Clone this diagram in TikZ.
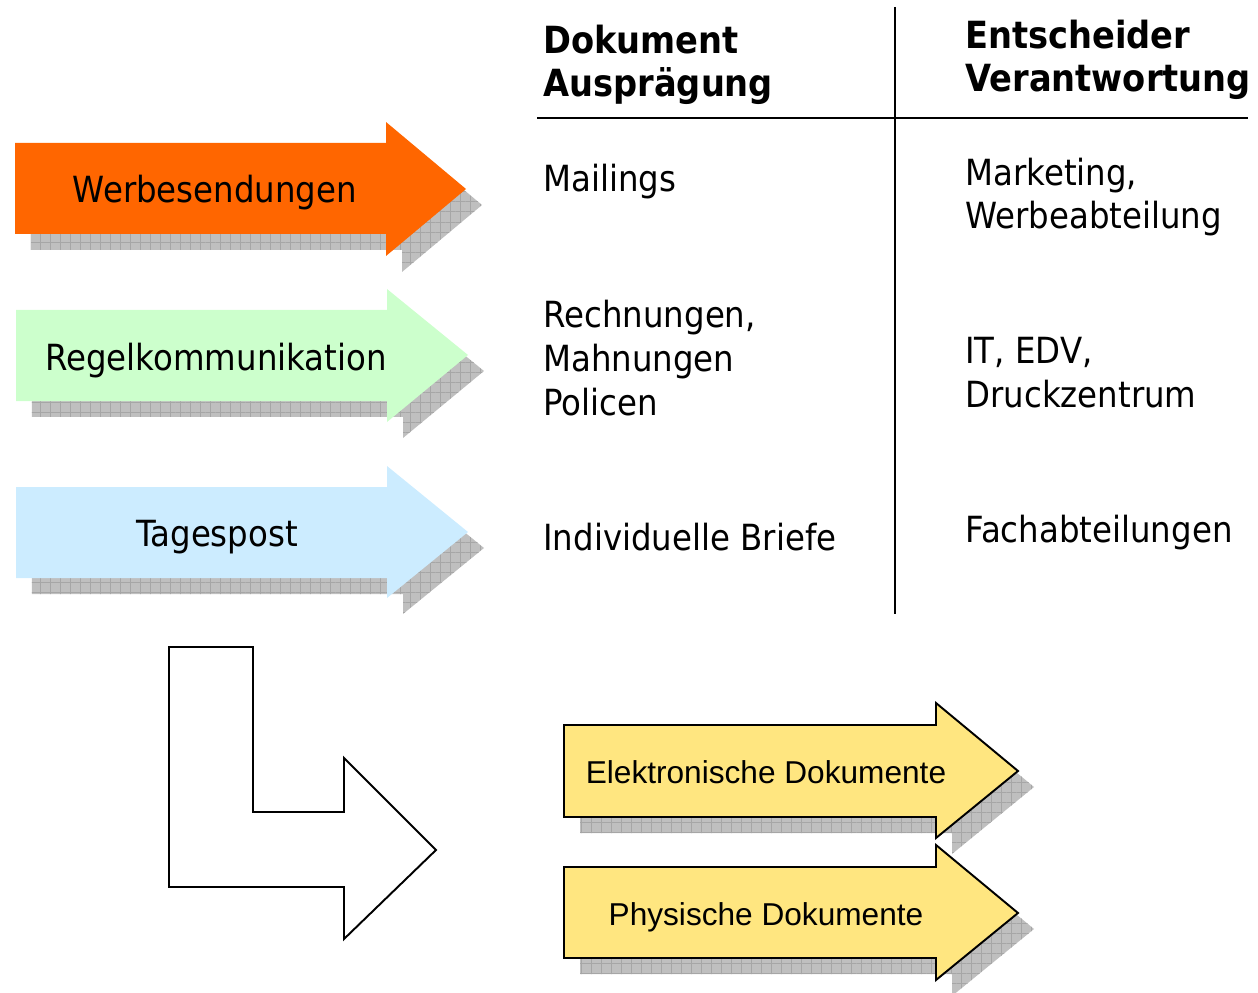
\documentclass[tikz,border=0pt]{standalone}
\usepackage{fontspec}
\usepackage{tikz}
\usepackage{xcolor}
\usetikzlibrary{shadows,patterns.meta}
\newfontfamily\tahoma[FakeStretch=0.9]{DejaVu Sans}
\newfontfamily\arial{Liberation Sans}
\definecolor{werbefarbe}{HTML}{FF6600}
\definecolor{regelfarbe}{HTML}{CCFFCC}
\definecolor{tagesfarbe}{HTML}{CCECFF}
\definecolor{dokfarbe}{HTML}{FFE680}

\begin{document}
\begin{tikzpicture}[
  x=0.02cm, y=-0.02cm,
  schatten/.style={
    drop shadow={shadow xshift=0.32cm, shadow yshift=-0.32cm, opacity=1, fill=gray!50},
    drop shadow={shadow xshift=0.32cm, shadow yshift=-0.32cm, opacity=1,
      pattern={Hatch[distance=5.7pt, line width=0.4pt]}, pattern color=black!35}},
  dokpfeil/.style={schatten, fill=dokfarbe, draw=black, line width=1.1pt},
  umriss/.style={draw=black, fill=white, line width=1.1pt},
  pfeiltext/.style={font=\tahoma\fontsize{20.5}{25}\selectfont, inner sep=0pt, anchor=base},
  tabtext/.style={font=\tahoma\fontsize{20.5}{25}\selectfont, inner sep=0pt, align=left, anchor=base west},
  kopf/.style={tabtext, font=\tahoma\bfseries\fontsize{21.3}{25}\selectfont},
  doktext/.style={font=\arial\fontsize{18}{22}\selectfont, inner sep=0pt, anchor=base},
  linie/.style={line width=1.1pt}
]
\useasboundingbox (0,0) rectangle (1258,993);

% Eingangspfeile
\fill[schatten, fill=werbefarbe] (15,143) -- (386,143) -- (386,122) -- (466,189) -- (386,256) -- (386,234) -- (15,234) -- cycle;
\fill[schatten, fill=regelfarbe] (16,310) -- (387,310) -- (387,289) -- (468,355) -- (387,422) -- (387,401) -- (16,401) -- cycle;
\fill[schatten, fill=tagesfarbe] (16,487) -- (387,487) -- (387,466) -- (468,532) -- (387,598) -- (387,578) -- (16,578) -- cycle;
\node[pfeiltext] (werbung) at (215,203) {Werbesendungen};
\node[pfeiltext] (regel) at (216,370) {Regelkommunikation};
\node[pfeiltext] (tagespost) at (217,546) {Tagespost};

% Tabelle (base = letzte Zeile)
\node[kopf] (auspraegung) at (543,97) {Dokument\\Ausprägung};
\node[kopf] (verantwortung) at (965,92) {Entscheider\\Verantwortung};
\draw[linie] (537,118) -- (1248,118);
\draw[linie] (895,7) -- (895,614);
\node[tabtext] (mailings) at (543,192) {Mailings};
\node[tabtext] (marketing) at (965,229) {Marketing,\\Werbeabteilung};
\node[tabtext] (rechnungen) at (543,415) {Rechnungen,\\Mahnungen\\Policen};
\node[tabtext] (edv) at (965,407) {IT, EDV,\\Druckzentrum};
\node[tabtext] (briefe) at (543,550) {Individuelle Briefe};
\node[tabtext] (fachabt) at (965,542) {Fachabteilungen};

% Umlenkpfeil
\draw[umriss] (169,647) -- (253,647) -- (253,812) -- (344,812) -- (344,758) -- (436,850) -- (344,939) -- (344,887) -- (169,887) -- cycle;

% Ausgangspfeile
\draw[dokpfeil] (564,725) -- (936,725) -- (936,703) -- (1018,771) -- (936,838) -- (936,817) -- (564,817) -- cycle;
\draw[dokpfeil] (564,867) -- (936,867) -- (936,845) -- (1018,913) -- (936,980) -- (936,958) -- (564,958) -- cycle;
\node[doktext] (elektronisch) at (766,783) {Elektronische Dokumente};
\node[doktext] (physisch) at (766,925) {Physische Dokumente};
\end{tikzpicture}
\end{document}
